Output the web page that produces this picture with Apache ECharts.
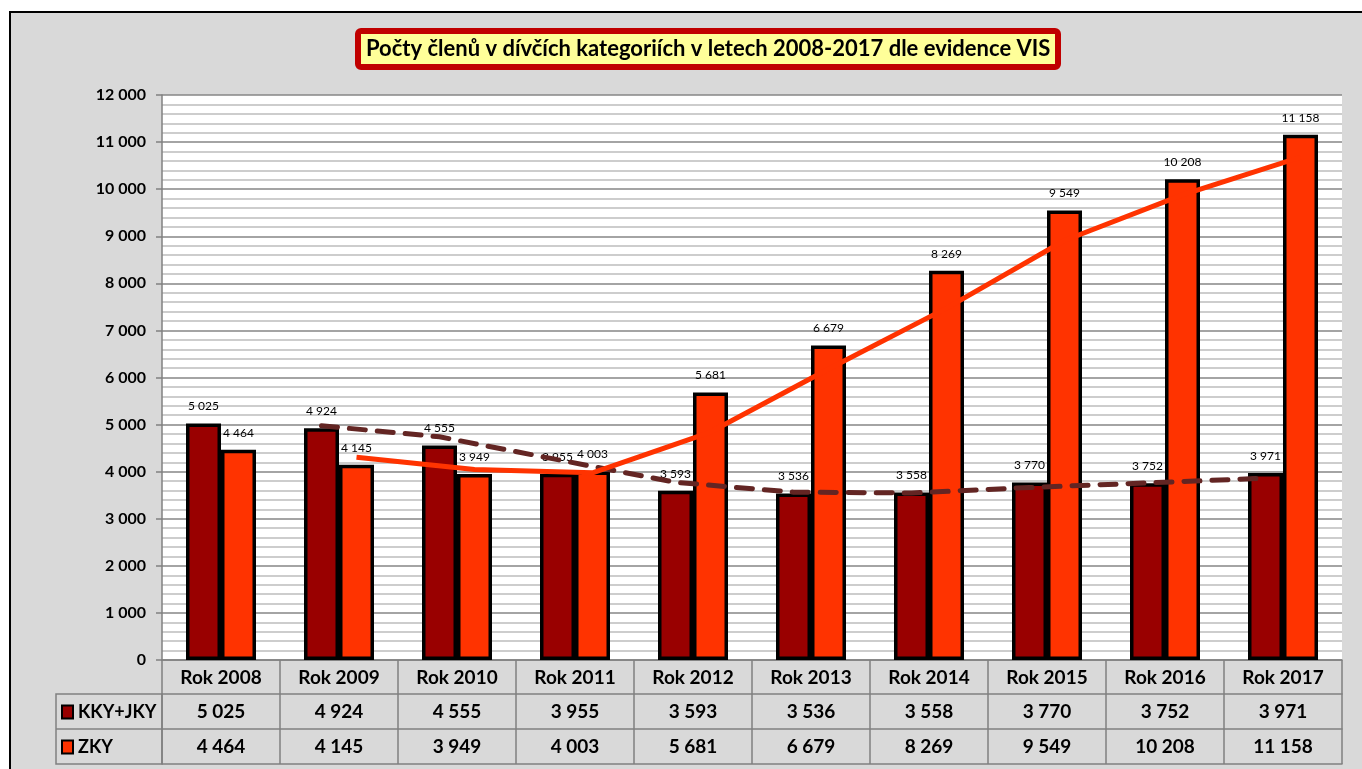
<!DOCTYPE html>
<html><head><meta charset="utf-8">
<script src="https://cdn.jsdelivr.net/npm/echarts@6/dist/echarts.min.js"></script>
<style>html,body{margin:0;padding:0;background:#fff}#c{width:1362px;height:769px}</style>
</head><body><div id="c"></div>
<script>
const categories = ['Rok 2008','Rok 2009','Rok 2010','Rok 2011','Rok 2012','Rok 2013','Rok 2014','Rok 2015','Rok 2016','Rok 2017'];
const kky = [5025,4924,4555,3955,3593,3536,3558,3770,3752,3971];
const zky = [4464,4145,3949,4003,5681,6679,8269,9549,10208,11158];
// moving-average trend lines
const kkyTrend = [null,4975,4740,4255,3774,3565,3547,3664,3761,3862];
const zkyTrend = [null,4305,4047,3976,4842,6180,7474,8909,9879,10683];
const seriesNames = ['KKY+JKY','ZKY'];
const yMin = 0, yMax = 12000, yStep = 1000;

const fmt = v => String(v).replace(/\B(?=(\d{3})+(?!\d))/g, ' ');
const FONT = 'Lato';
const GRID = {left:162, right:20, top:95, bottom:109};
const W = 1362, H = 769;
const BAR_W = 35;
const catW = (W - GRID.left - GRID.right) / categories.length;
const off = (BAR_W/2) / catW;
const trendPts = (arr, sign) => arr.map((v,i)=> v==null ? null : [i + 0.5 + sign*off, v]).filter(p=>p);

const gray = '#808080';
const tableAxis = (data, offset, tickLen, showTick) => ({
  type:'category', data, position:'bottom', offset,
  axisLine:{show:true, lineStyle:{color:gray, width:1.5}},
  axisTick:{show:showTick, interval:0, length:tickLen, lineStyle:{color:gray, width:1.5}},
  axisLabel:{show:true, interval:0, margin:8, fontFamily:FONT, fontWeight:'bold', fontSize:19, color:'#000'}
});

const chart = echarts.init(document.getElementById('c'), null, {renderer:'canvas'});
chart.setOption({
  animation:false,
  backgroundColor:'#fff',
  graphic:[
    {type:'rect', z:-10, silent:true, shape:{x:10, y:12, width:W, height:H}, style:{fill:'#d9d9d9', stroke:'#000', lineWidth:2}},
    {type:'rect', z:5, silent:true, shape:{x:56, y:694, width:GRID.left-56, height:70}, style:{fill:'none', stroke:gray, lineWidth:1.5}},
    {type:'line', z:5, silent:true, shape:{x1:56, y1:729, x2:GRID.left, y2:729}, style:{stroke:gray, lineWidth:1.5}}
  ],
  title:{
    text:'Počty členů v dívčích kategoriích v letech 2008-2017 dle evidence VIS',
    left:358, top:31, padding:[5,8],
    backgroundColor:'#ffff99', borderColor:'#c00000', borderWidth:6, borderRadius:3,
    textStyle:{fontFamily:FONT, fontWeight:'bold', fontSize:22, lineHeight:26, color:'#000'}
  },
  legend:{
    data:seriesNames, orient:'vertical', left:61, top:702, padding:0, itemGap:15,
    itemWidth:11, itemHeight:13, icon:'rect',
    itemStyle:{borderColor:'#000', borderWidth:2},
    textStyle:{fontFamily:FONT, fontWeight:'bold', fontSize:18, color:'#000', lineHeight:20}
  },
  grid:{...GRID, show:true, backgroundColor:'#fff', borderWidth:0, containLabel:false},
  xAxis:[
    tableAxis(categories, 0, 34, true),
    tableAxis(kky.map(fmt), 34, 35, true),
    tableAxis(zky.map(fmt), 69, 35, true),
    Object.assign(tableAxis(categories.map(()=>''), 104, 0, false), {axisLabel:{show:false}}),
    {type:'value', min:0, max:categories.length, show:false}
  ],
  yAxis:{
    type:'value', min:yMin, max:yMax, interval:yStep,
    axisLine:{show:true, lineStyle:{color:gray, width:1.5}},
    axisTick:{show:true, length:6, lineStyle:{color:gray, width:1.5}},
    axisLabel:{margin:16, fontFamily:FONT, fontWeight:'bold', fontSize:16, color:'#000', formatter:fmt},
    splitLine:{show:true, lineStyle:{color:'#868686', width:1.5}},
    minorTick:{show:false, splitNumber:5},
    minorSplitLine:{show:true, lineStyle:{color:'#bdbdbd', width:1.5}}
  },
  series:[
    {name:seriesNames[0], type:'bar', data:kky, xAxisIndex:0, barWidth:BAR_W, barGap:'0%',
     itemStyle:{color:'#990000', borderColor:'#000', borderWidth:3.5},
     label:{show:true, position:'top', distance:11, fontFamily:FONT, fontSize:12, color:'#000', formatter:p=>fmt(p.value)}},
    {name:seriesNames[1], type:'bar', data:zky, xAxisIndex:0, barWidth:BAR_W, barGap:'0%',
     itemStyle:{color:'#ff3300', borderColor:'#000', borderWidth:3.5},
     label:{show:true, position:'top', distance:11, fontFamily:FONT, fontSize:12, color:'#000', formatter:p=>fmt(p.value)}},
    {name:'trendKKY', type:'line', xAxisIndex:4, data:trendPts(kkyTrend,-1), symbol:'none', z:5,
     lineStyle:{color:'#632523', width:5, type:[16,12], cap:'round'}},
    {name:'trendZKY', type:'line', xAxisIndex:4, data:trendPts(zkyTrend,1), symbol:'none', z:5,
     lineStyle:{color:'#ff3300', width:5}}
  ]
});
</script></body></html>
